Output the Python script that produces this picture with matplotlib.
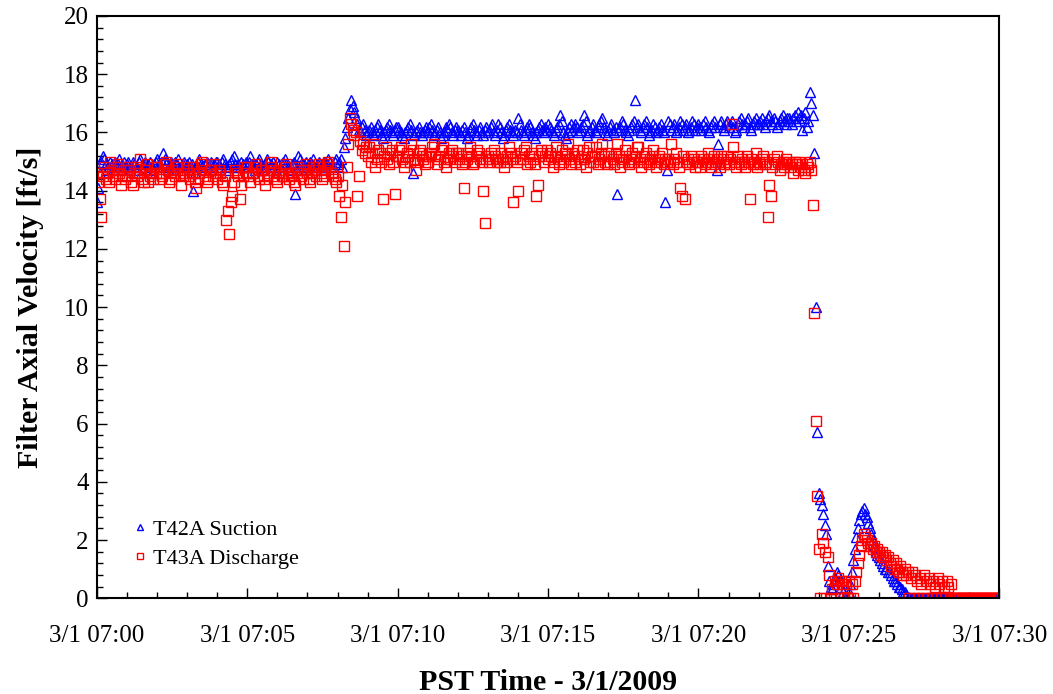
#!/usr/bin/env python3
"""Filter axial velocity, T42A suction vs T43A discharge, 3/1/2009 07:00-07:30 PST."""
import matplotlib

matplotlib.use("Agg")
import matplotlib.pyplot as plt
import matplotlib.dates as mdates
from matplotlib.ticker import MultipleLocator
import pandas as pd

plt.rcParams["font.family"] = ["Liberation Serif", "DejaVu Serif"]

# 3-second samples from 07:00:00 to 07:30:00, one row of 20 per minute
START = "2009-03-01 07:00:00"
END = "2009-03-01 07:30:00"

suction_t42a = [
    13.6, 14.1, 14.6, 15.0, 15.2, 15.1, 14.9, 14.7, 14.8, 15.0, 14.9, 14.7, 15.0, 14.8, 14.9, 15.1, 14.8, 14.9, 15.0, 14.8,
    14.9, 15.0, 14.7, 14.8, 15.0, 14.9, 14.7, 14.8, 15.0, 15.1, 14.8, 14.9, 15.0, 14.7, 14.9, 15.0, 14.8, 14.7, 14.9, 15.0,
    15.1, 14.9, 14.8, 15.0, 15.3, 15.1, 14.9, 14.7, 14.8, 15.0, 14.9, 14.8, 15.0, 14.9, 15.1, 14.8, 14.7, 14.9, 15.0, 14.8,
    14.9, 15.0, 14.8, 14.9, 14.0, 14.6, 14.8, 15.0, 15.1, 14.9, 14.8, 14.7, 14.9, 15.0, 14.8, 14.9, 15.0, 14.8, 14.9, 15.0,
    15.0, 14.9, 14.8, 15.0, 15.1, 14.9, 14.8, 14.7, 14.9, 15.0, 15.1, 15.2, 14.9, 14.8, 14.9, 14.8, 15.0, 14.9, 14.8, 15.0,
    14.8, 15.0, 15.2, 14.9, 14.8, 14.7, 14.9, 15.0, 15.1, 14.9, 14.8, 14.7, 14.9, 15.1, 15.0, 14.8, 14.9, 15.0, 14.8, 14.7,
    15.0, 14.9, 14.8, 14.9, 15.0, 15.1, 14.9, 14.8, 14.7, 14.8, 14.9, 15.0, 13.9, 14.7, 15.2, 15.1, 14.9, 14.8, 14.9, 15.0,
    14.8, 14.9, 15.0, 14.9, 15.1, 14.8, 14.7, 14.9, 15.0, 14.8, 14.9, 15.0, 14.8, 14.9, 15.1, 15.0, 14.9, 14.8, 15.0, 15.1,
    14.9, 15.0, 15.1, 14.8, 15.5, 15.8, 16.2, 16.5, 16.8, 17.1, 16.9, 16.7, 16.5, 16.3, 16.1, 16.0, 16.2, 16.3, 16.1, 15.9,
    16.0, 16.1, 16.2, 16.0, 15.9, 16.1, 16.2, 16.3, 16.1, 15.9, 15.8, 16.0, 16.1, 16.2, 16.3, 16.1, 16.0, 15.9, 16.1, 16.2,
    16.2, 16.1, 16.0, 15.9, 15.8, 16.0, 16.1, 16.2, 16.3, 16.1, 14.6, 15.9, 16.0, 16.1, 16.2, 16.0, 15.9, 16.0, 16.1, 16.2,
    16.0, 16.2, 16.3, 16.1, 15.9, 16.0, 16.1, 16.2, 16.0, 15.8, 15.9, 16.0, 16.2, 16.1, 16.3, 16.2, 16.0, 15.9, 16.1, 16.2,
    16.1, 16.0, 15.9, 16.1, 16.2, 16.0, 15.8, 15.9, 16.1, 16.2, 16.3, 16.1, 16.0, 15.9, 16.1, 16.2, 16.0, 15.9, 16.1, 16.2,
    16.0, 16.1, 16.2, 16.3, 16.0, 15.9, 16.1, 16.3, 16.2, 16.0, 15.8, 15.9, 16.1, 16.2, 16.3, 16.1, 16.0, 15.9, 16.1, 16.0,
    16.5, 16.3, 16.1, 16.0, 15.9, 16.1, 16.2, 16.3, 16.2, 16.0, 15.9, 15.8, 16.0, 16.1, 16.2, 16.3, 16.1, 16.0, 16.2, 16.1,
    16.3, 16.2, 16.1, 16.0, 15.9, 16.1, 16.2, 16.3, 16.6, 16.4, 16.0, 15.9, 15.8, 16.0, 16.2, 16.3, 16.1, 16.2, 16.3, 16.2,
    16.0, 16.1, 16.2, 16.3, 16.6, 16.4, 15.9, 16.0, 16.1, 16.2, 16.3, 16.1, 16.0, 16.2, 16.3, 16.4, 16.5, 16.2, 16.0, 15.9,
    16.1, 16.2, 16.3, 16.1, 16.0, 16.2, 13.9, 16.1, 16.2, 16.4, 16.3, 16.1, 16.0, 15.9, 16.1, 16.2, 16.3, 16.4, 17.1, 16.2,
    16.3, 16.1, 16.0, 16.2, 16.3, 16.4, 16.2, 15.9, 16.0, 16.1, 16.3, 16.2, 16.0, 16.1, 16.2, 16.3, 16.1, 16.0, 13.6, 14.7,
    16.4, 16.3, 16.1, 16.2, 16.3, 16.0, 16.1, 16.2, 16.4, 16.3, 16.1, 16.2, 16.3, 16.0, 16.1, 16.2, 16.4, 16.3, 16.1, 16.2,
    16.3, 16.2, 16.1, 16.3, 16.4, 16.2, 16.1, 16.0, 16.2, 16.3, 16.4, 16.2, 14.7, 15.6, 16.3, 16.4, 16.2, 16.1, 16.3, 16.4,
    16.2, 16.3, 16.4, 16.2, 16.0, 16.1, 16.3, 16.4, 16.5, 16.3, 16.2, 16.3, 16.4, 16.5, 16.2, 16.1, 16.3, 16.4, 16.5, 16.3,
    16.3, 16.4, 16.5, 16.3, 16.2, 16.4, 16.5, 16.6, 16.4, 16.3, 16.5, 16.4, 16.2, 16.3, 16.4, 16.5, 16.6, 16.4, 16.3, 16.5,
    16.5, 16.4, 16.3, 16.5, 16.6, 16.4, 16.7, 16.5, 16.6, 16.1, 16.5, 16.7, 16.2, 16.4, 17.4, 17.0, 16.6, 15.3, 10.0, 5.7,
    3.6, 3.4, 3.2, 2.9, 2.5, 2.2, 1.1, 0.6, 0.4, 0.3, 0.5, 0.7, 0.9, 0.8, 0.6, 0.4, 0.2, 0.0, 0.0, 0.0,
    0.2, 0.5, 0.9, 1.3, 1.7, 2.1, 2.4, 2.7, 2.9, 3.0, 3.1, 2.9, 2.8, 2.6, 2.4, 2.2, 2.0, 1.8, 1.6, 1.5,
    1.4, 1.3, 1.2, 1.1, 1.0, 1.0, 0.9, 0.9, 0.8, 0.7, 0.6, 0.6, 0.5, 0.4, 0.4, 0.3, 0.2, 0.2, 0.1, 0.0,
    0.0, 0.0, 0.0, 0.0, 0.0, 0.0, 0.0, 0.0, 0.0, 0.0, 0.0, 0.0, 0.0, 0.0, 0.0, 0.0, 0.0, 0.0, 0.0, 0.0,
    0.0, 0.0, 0.0, 0.0, 0.0, 0.0, 0.0, 0.0, 0.0, 0.0, 0.0, 0.0, 0.0, 0.0, 0.0, 0.0, 0.0, 0.0, 0.0, 0.0,
    0.0, 0.0, 0.0, 0.0, 0.0, 0.0, 0.0, 0.0, 0.0, 0.0, 0.0, 0.0, 0.0, 0.0, 0.0, 0.0, 0.0, 0.0, 0.0, 0.0,
    0.0,
]

discharge_t43a = [
    14.6, 14.3, 13.7, 13.1, 14.5, 14.8, 14.4, 14.6, 14.3, 15.0, 14.7, 14.5, 14.4, 14.8, 14.9, 14.6, 14.2, 14.5, 14.7, 14.4,
    14.5, 14.8, 14.7, 14.3, 14.2, 14.6, 14.8, 14.5, 14.6, 15.1, 14.4, 14.3, 14.7, 14.9, 14.3, 14.5, 14.6, 14.4, 14.8, 14.6,
    14.8, 14.6, 14.4, 14.5, 14.6, 14.9, 15.0, 14.7, 14.3, 14.4, 14.7, 14.6, 14.5, 14.8, 14.9, 14.6, 14.2, 14.5, 14.6, 14.8,
    14.7, 14.5, 14.4, 14.6, 14.8, 14.3, 14.1, 14.4, 14.6, 14.9, 15.0, 14.7, 14.5, 14.3, 14.4, 14.7, 14.7, 14.5, 14.9, 14.6,
    14.4, 14.7, 14.6, 14.3, 14.2, 14.5, 13.0, 13.3, 12.5, 13.6, 13.8, 14.3, 14.7, 14.6, 14.5, 13.7, 14.2, 14.5, 14.8, 14.6,
    14.8, 14.5, 14.3, 14.6, 14.6, 14.8, 14.9, 14.5, 14.4, 14.7, 14.7, 14.4, 14.2, 14.5, 14.6, 14.8, 15.0, 14.7, 14.5, 14.4,
    14.3, 14.6, 14.7, 14.5, 14.5, 14.8, 14.9, 14.6, 14.4, 14.5, 14.6, 14.3, 14.2, 14.6, 14.8, 14.7, 14.5, 14.4, 14.7, 14.9,
    14.6, 14.4, 14.3, 14.6, 14.8, 14.7, 14.5, 14.8, 14.9, 14.6, 14.4, 14.5, 14.7, 14.9, 15.0, 14.8, 14.6, 14.5, 14.4, 14.3,
    14.5, 13.8, 13.1, 14.2, 12.1, 13.6, 14.8, 15.6, 16.5, 16.3, 16.1, 15.9, 16.0, 13.8, 14.5, 15.7, 15.4, 15.6, 15.3, 15.5,
    15.2, 15.5, 15.0, 15.3, 15.6, 14.8, 15.1, 15.4, 15.3, 15.0, 13.7, 15.2, 15.5, 15.1, 14.9, 15.3, 15.4, 15.0, 13.9, 15.2,
    15.2, 15.4, 15.5, 15.1, 14.8, 15.0, 15.3, 15.2, 15.0, 15.6, 15.4, 15.1, 14.7, 15.0, 15.3, 15.4, 15.2, 15.1, 14.9, 15.2,
    15.0, 15.2, 15.3, 15.5, 15.6, 15.2, 14.9, 15.1, 15.2, 15.4, 15.5, 15.0, 14.8, 15.1, 15.3, 15.1, 15.4, 15.2, 15.0, 15.3,
    15.3, 15.1, 15.2, 14.9, 14.1, 15.0, 15.1, 15.3, 15.5, 15.2, 14.9, 15.0, 15.2, 15.4, 15.3, 15.1, 15.0, 14.0, 12.9, 15.1,
    15.2, 15.0, 15.3, 15.1, 15.4, 15.2, 15.0, 15.1, 15.0, 15.3, 15.1, 14.8, 15.0, 15.2, 15.5, 15.3, 15.1, 13.6, 15.2, 15.0,
    14.0, 15.1, 15.3, 15.1, 15.4, 15.5, 14.9, 15.2, 15.0, 15.3, 15.1, 14.9, 13.8, 14.2, 15.2, 15.4, 15.3, 15.0, 15.2, 15.4,
    15.1, 15.3, 15.2, 14.8, 15.0, 15.5, 15.2, 14.9, 15.1, 15.4, 15.0, 15.3, 15.2, 15.6, 15.1, 14.9, 15.3, 15.2, 15.0, 15.4,
    15.2, 14.9, 15.1, 15.4, 15.1, 14.8, 15.3, 15.5, 15.0, 15.2, 15.0, 15.2, 15.5, 14.9, 15.1, 15.3, 15.6, 15.2, 15.0, 14.9,
    15.3, 15.0, 15.2, 15.1, 14.9, 15.3, 15.6, 15.2, 14.8, 15.0, 15.1, 15.4, 15.2, 15.0, 14.9, 15.1, 15.3, 15.0, 15.2, 15.5,
    15.5, 15.1, 14.8, 15.0, 15.2, 15.3, 15.0, 14.9, 15.1, 15.2, 15.4, 15.0, 14.8, 15.1, 15.2, 15.0, 15.3, 14.9, 15.1, 15.0,
    15.1, 15.0, 15.6, 14.9, 15.1, 15.3, 15.0, 14.8, 14.1, 13.8, 15.2, 13.7, 15.0, 15.1, 14.9, 15.2, 15.0, 15.1, 14.8, 15.0,
    15.0, 14.8, 15.2, 15.1, 14.9, 15.0, 15.3, 15.1, 14.8, 15.0, 15.2, 14.9, 15.1, 15.0, 14.8, 15.2, 15.1, 14.9, 15.0, 15.2,
    14.9, 15.1, 16.3, 15.5, 15.0, 14.8, 15.2, 15.0, 14.9, 15.1, 15.0, 14.8, 15.2, 15.0, 13.7, 15.1, 14.9, 15.0, 15.3, 14.8,
    15.0, 14.9, 15.1, 15.2, 14.9, 15.0, 13.1, 14.2, 13.8, 14.8, 15.1, 14.9, 15.2, 15.0, 14.7, 14.9, 15.0, 14.8, 15.1, 14.9,
    15.0, 14.8, 14.9, 14.6, 15.0, 14.9, 14.7, 15.0, 14.8, 14.9, 14.7, 14.6, 14.9, 14.8, 15.0, 14.7, 13.5, 9.8, 6.1, 3.5,
    1.7, 0.0, 2.2, 1.9, 1.6, 0.0, 1.4, 0.8, 0.0, 0.3, 0.0, 0.6, 0.5, 0.7, 0.0, 0.6, 0.5, 0.0, 0.4, 0.0,
    0.6, 0.0, 0.5, 0.0, 0.6, 0.9, 1.2, 1.5, 1.8, 2.0, 2.2, 2.1, 2.0, 1.9, 1.8, 1.9, 1.7, 1.8, 1.6, 1.7,
    1.6, 1.5, 1.6, 1.4, 1.5, 1.3, 1.4, 1.2, 1.1, 1.3, 1.0, 1.2, 1.0, 0.9, 1.1, 0.9, 0.8, 1.0, 0.8, 0.9,
    0.0, 0.7, 0.9, 0.0, 0.8, 0.6, 0.0, 0.7, 0.5, 0.0, 0.8, 0.6, 0.0, 0.7, 0.5, 0.0, 0.6, 0.4, 0.0, 0.7,
    0.5, 0.0, 0.6, 0.4, 0.0, 0.6, 0.4, 0.0, 0.5, 0.0, 0.0, 0.0, 0.0, 0.0, 0.0, 0.0, 0.0, 0.0, 0.0, 0.0,
    0.0, 0.0, 0.0, 0.0, 0.0, 0.0, 0.0, 0.0, 0.0, 0.0, 0.0, 0.0, 0.0, 0.0, 0.0, 0.0, 0.0, 0.0, 0.0, 0.0,
    0.0,
]

times = pd.date_range(START, END, freq="3s")

fig = plt.figure(figsize=(10.53, 6.94), dpi=100)
ax = fig.add_axes([0.092, 0.138, 0.857, 0.839])

ax.plot(times, suction_t42a, ls="none", marker="^", ms=7, mfc="none",
        mec="#0000ff", mew=1.0, label="T42A Suction")
ax.plot(times, discharge_t43a, ls="none", marker="s", ms=7, mfc="none",
        mec="#ff0000", mew=1.0, label="T43A Discharge")

ax.set_xlim(pd.Timestamp(START), pd.Timestamp(END))
ax.set_ylim(0, 20)

ax.xaxis.set_major_locator(mdates.MinuteLocator(byminute=range(0, 60, 5)))
ax.xaxis.set_minor_locator(mdates.MinuteLocator())
ax.xaxis.set_major_formatter(mdates.DateFormatter("%-m/%-d %H:%M"))
ax.yaxis.set_major_locator(MultipleLocator(2))
ax.yaxis.set_minor_locator(MultipleLocator(0.4))

ax.tick_params(which="both", direction="in", labelsize=18, width=1.0)
ax.tick_params(axis="x", which="major", length=7, pad=19)
ax.tick_params(axis="y", which="major", length=7, pad=6)
ax.tick_params(which="minor", length=4)
for s in ax.spines.values():
    s.set_linewidth(1.5)

ax.set_xlabel("PST Time - 3/1/2009", fontsize=21.5, fontweight="bold", labelpad=16)
ax.set_ylabel("Filter Axial Velocity [ft/s]", fontsize=21.5, fontweight="bold", labelpad=14)

ax.legend(loc="lower left", bbox_to_anchor=(0.028, 0.035), frameon=False,
          fontsize=16, markerscale=0.7, handlelength=0.8, handletextpad=0.2,
          labelspacing=0.4, borderaxespad=0.0)

fig.savefig("out.png", dpi=100)
